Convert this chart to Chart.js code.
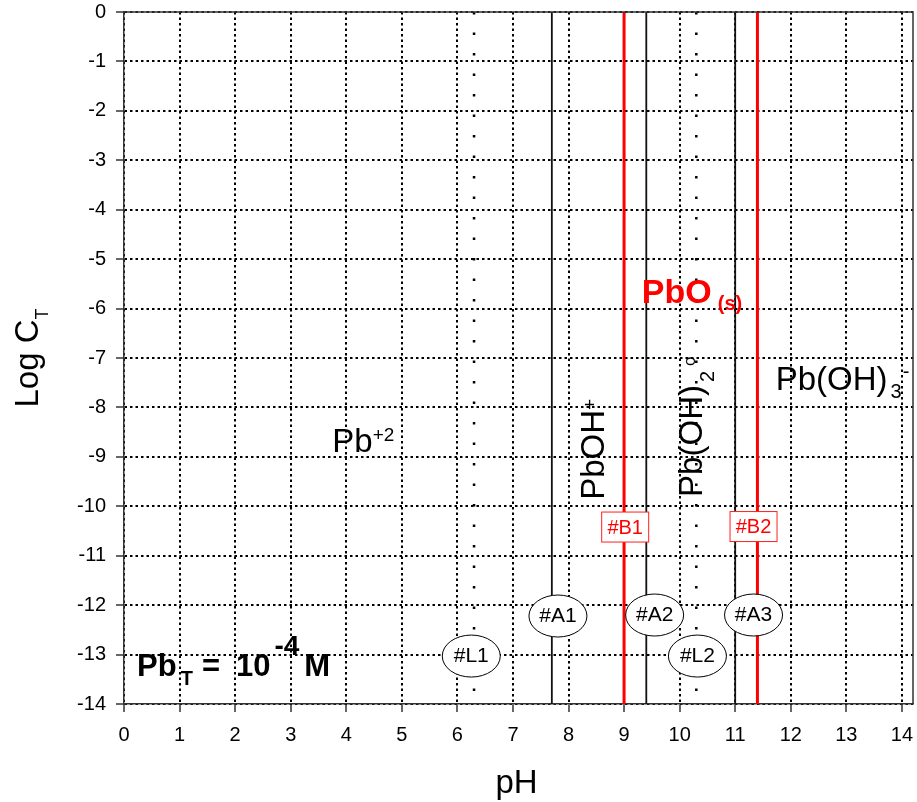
<!DOCTYPE html>
<html>
<head>
<meta charset="utf-8">
<title>Pb speciation - Log C vs pH</title>
<script src="https://cdn.jsdelivr.net/npm/chart.js@4.4.1/dist/chart.umd.min.js"></script>
<style>
  html, body { margin: 0; padding: 0; background: #fff; }
  #wrap { position: relative; width: 917px; height: 802px; }
</style>
</head>
<body>
<div id="wrap"><canvas id="chart"></canvas></div>
<script>
// --- data ---
const phTicks = [0, 1, 2, 3, 4, 5, 6, 7, 8, 9, 10, 11, 12, 13, 14];
const logTicks = [0, -1, -2, -3, -4, -5, -6, -7, -8, -9, -10, -11, -12, -13, -14];
const logRange = [0, -14];
const pkaLines = [7.7, 9.4, 11.0];     // #A1 #A2 #A3
const solidLines = [9.0, 11.4];        // #B1 #B2, PbO(s) boundaries
const ligandLines = [6.3, 10.3];       // #L1 #L2

const FONT = "Arial, 'Liberation Sans', Helvetica, sans-serif";

// --- annotation layout (data coordinates) ---
const speciesNotes = [
  { x: 3.75, y: -8.9, angle: 0, color: '#000', runs: [
    { t: 'Pb', size: 33 }, { t: '+2', size: 19, dy: -11 } ] },
  { x: 8.63, y: -9.87, angle: -90, color: '#000', runs: [
    { t: 'PbOH', size: 33 }, { t: '+', size: 19, dy: -8 } ] },
  { x: 10.4, y: -9.81, angle: -90, color: '#000', runs: [
    { t: 'Pb(OH)', size: 33 }, { t: '2', size: 20, dy: 12, gap: 3 }, { t: 'o', size: 17, dy: -7, gap: 5 } ] },
  { x: 9.32, y: -5.89, angle: 0, color: '#ff0000', runs: [
    { t: 'PbO', size: 34, bold: true }, { t: '(s)', size: 20, bold: true, dy: 7, gap: 6 } ] },
  { x: 11.73, y: -7.65, angle: 0, color: '#000', runs: [
    { t: 'Pb(OH)', size: 33 }, { t: '3', size: 20, dy: 8, gap: 3 }, { t: '-', size: 20, dy: -12, gap: 1 } ] },
  { x: 0.235, y: -13.43, angle: 0, color: '#000', runs: [
    { t: 'Pb', size: 31, bold: true }, { t: 'T', size: 20, bold: true, dy: 9, gap: 4 },
    { t: '=', size: 31, bold: true, gap: 9 }, { t: '10', size: 31, bold: true, gap: 16 },
    { t: '-4', size: 28, bold: true, dy: -21, gap: 4 }, { t: 'M', size: 31, bold: true, gap: 5 } ] }
];

const ovalNotes = [
  { t: '#A1', x: 7.81, y: -12.22 },
  { t: '#A2', x: 9.55, y: -12.2 },
  { t: '#A3', x: 11.33, y: -12.2 },
  { t: '#L1', x: 6.25, y: -13.03 },
  { t: '#L2', x: 10.32, y: -13.03 }
];

const boxNotes = [
  { t: '#B1', x: 9.02, y: -10.42 },
  { t: '#B2', x: 11.33, y: -10.41 }
];

function vline(x, color, width, dash) {
  return {
    data: logRange.map(y => ({ x: x, y: y })),
    borderColor: color,
    borderWidth: width,
    borderDash: dash || [],
    borderCapStyle: 'butt',
    pointRadius: 0,
    showLine: true,
    fill: false
  };
}

function drawRuns(ctx, x, y, runs, angle, color) {
  ctx.save();
  ctx.translate(x, y);
  ctx.rotate(angle * Math.PI / 180);
  ctx.fillStyle = color;
  ctx.textBaseline = 'alphabetic';
  ctx.textAlign = 'left';
  let cx = 0;
  runs.forEach(r => {
    ctx.font = (r.bold ? 'bold ' : '') + r.size + 'px ' + FONT;
    cx += r.gap || 0;
    ctx.fillText(r.t, cx, r.dy || 0);
    cx += ctx.measureText(r.t).width;
  });
  ctx.restore();
}

// chart area comes from layout.padding only
function noPad(s) {
  s.paddingLeft = 0; s.paddingRight = 0; s.paddingTop = 0; s.paddingBottom = 0;
}

const notesPlugin = {
  id: 'notes',
  afterDatasetsDraw(chart) {
    const ctx = chart.ctx;
    const xs = chart.scales.x, ys = chart.scales.y;
    const area = chart.chartArea;

    // frame on top and right
    ctx.save();
    ctx.strokeStyle = '#333';
    ctx.lineWidth = 1.5;
    ctx.beginPath();
    ctx.moveTo(area.left, area.top);
    ctx.lineTo(area.right, area.top);
    ctx.lineTo(area.right, area.bottom);
    ctx.stroke();
    ctx.restore();

    speciesNotes.forEach(n => {
      drawRuns(ctx, xs.getPixelForValue(n.x), ys.getPixelForValue(n.y), n.runs, n.angle, n.color);
    });

    ovalNotes.forEach(n => {
      const px = xs.getPixelForValue(n.x), py = ys.getPixelForValue(n.y);
      ctx.save();
      ctx.beginPath();
      ctx.ellipse(px, py, 29, 21, 0, 0, Math.PI * 2);
      ctx.fillStyle = '#fff';
      ctx.fill();
      ctx.lineWidth = 1;
      ctx.strokeStyle = '#000';
      ctx.stroke();
      ctx.fillStyle = '#000';
      ctx.font = '21px ' + FONT;
      ctx.textAlign = 'center';
      ctx.textBaseline = 'middle';
      ctx.fillText(n.t, px, py);
      ctx.restore();
    });

    boxNotes.forEach(n => {
      const px = xs.getPixelForValue(n.x), py = ys.getPixelForValue(n.y);
      ctx.save();
      ctx.fillStyle = '#fff';
      ctx.fillRect(px - 23.5, py - 15, 47, 30);
      ctx.strokeStyle = '#ff2020';
      ctx.lineWidth = 1;
      ctx.strokeRect(px - 23.5, py - 15, 47, 30);
      ctx.fillStyle = '#ff0000';
      ctx.font = '20px ' + FONT;
      ctx.textAlign = 'center';
      ctx.textBaseline = 'middle';
      ctx.fillText(n.t, px, py + 1);
      ctx.restore();
    });

    // axis titles
    ctx.save();
    ctx.fillStyle = '#000';
    ctx.font = '33px ' + FONT;
    ctx.textAlign = 'center';
    ctx.textBaseline = 'alphabetic';
    ctx.fillText('pH', (area.left + area.right) / 2 - 2, 793);
    ctx.restore();

    ctx.save();
    ctx.font = '33px ' + FONT;
    const w1 = ctx.measureText('Log C').width;
    ctx.font = '18px ' + FONT;
    const w2 = ctx.measureText('T').width;
    ctx.restore();
    const cy = (area.top + area.bottom) / 2;
    drawRuns(ctx, 38, cy + (w1 + w2) / 2, [
      { t: 'Log C', size: 33 }, { t: 'T', size: 18, dy: 10 }
    ], -90, '#000');
  }
};

const datasets = [];
ligandLines.forEach(x => datasets.push(vline(x, '#000', 2.5, [2.5, 18])));
pkaLines.forEach(x => datasets.push(vline(x, '#111', 1.8)));
solidLines.forEach(x => datasets.push(vline(x, '#ff0000', 3)));

new Chart(document.getElementById('chart'), {
  type: 'scatter',
  data: { datasets: datasets },
  options: {
    responsive: true,
    maintainAspectRatio: false,
    animation: false,
    layout: { padding: { top: 12, right: 4, left: 0, bottom: 0 } },
    plugins: { legend: { display: false }, tooltip: { enabled: false }, title: { display: false } },
    scales: {
      x: {
        type: 'linear',
        min: 0,
        max: 14.2,
        afterBuildTicks: s => { s.ticks = phTicks.map(v => ({ value: v })); },
        afterFit: s => { s.height = 98; noPad(s); },
        grid: { color: '#000', lineWidth: 2, tickLength: 8, tickColor: '#333', tickWidth: 1.5 },
        border: { display: true, color: '#333', width: 1.5, dash: [2.5, 3] },
        ticks: { color: '#000', font: { family: FONT, size: 20 }, padding: 11, maxRotation: 0, autoSkip: false,
                 callback: v => String(v) }
      },
      y: {
        type: 'linear',
        min: -14,
        max: 0,
        afterBuildTicks: s => { s.ticks = logTicks.map(v => ({ value: v })); },
        afterFit: s => { s.width = 124; noPad(s); },
        grid: { color: '#000', lineWidth: 2, tickLength: 8, tickColor: '#333', tickWidth: 1.5 },
        border: { display: true, color: '#333', width: 1.5, dash: [2.5, 3] },
        ticks: { color: '#000', font: { family: FONT, size: 20 }, padding: 10, autoSkip: false,
                 callback: v => String(v) }
      }
    }
  },
  plugins: [notesPlugin]
});
</script>
</body>
</html>
